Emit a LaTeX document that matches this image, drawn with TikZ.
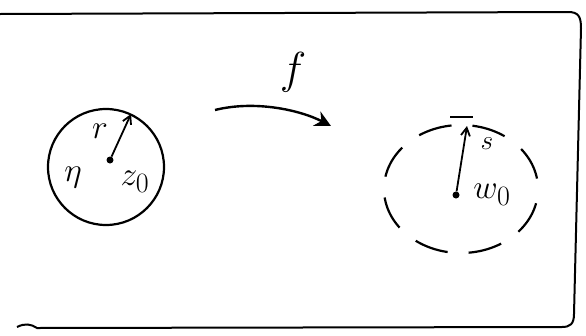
\documentclass[tikz,border=0pt]{standalone}
\usepackage{amsmath, amssymb}
\usetikzlibrary{arrows.meta, shapes.geometric}

\begin{document}
\begin{tikzpicture}[x=1pt, y=-1pt,
  frame/.style={line width=2pt},
  disk/.style={circle, draw, line width=2.2pt, minimum size=116pt, inner sep=0pt},
  image/.style={ellipse, draw, line width=2.2pt, minimum width=154pt,
                minimum height=128pt, inner sep=0pt,
                dash pattern=on 34pt off 21pt, dash phase=44.5pt},
  centre/.style={circle, fill, minimum size=7pt, inner sep=0pt},
  radius/.style={line width=1.8pt, -{Straight Barb[length=8pt, width=9pt]}},
  map/.style={line width=2.4pt, -{Stealth[length=16pt, width=16pt]}},
  lbl/.style={font=\Huge, scale=1.35},
  small/.style={font=\Huge, scale=1.1},
]
\useasboundingbox (0,0) rectangle (586,335);

% outer frame
\draw[frame] (0,14) -- (568,12) .. controls (578,12) and (581,16) .. (581,28)
  -- (574,314) .. controls (574,324) and (570,327) .. (562,327) -- (37,328)
  .. controls (31,324) and (25,323) .. (17,327);

% domain disc
\node[disk] (D) at (106,167) {};
\node[centre] (z0) at (110,160) {};
\coordinate (rtip) at (131,114);
\draw[radius] (z0) -- (rtip);
\node[lbl] (r) at (100,131) {$r$};
\node[lbl] (z0lbl) at (135,182) {$z_0$};
\node[lbl] (eta) at (73,178) {$\eta$};

% the map
\coordinate (fstart) at (215,110);
\coordinate (fend) at (331,126);
\draw[map] (fstart) .. controls (255,100) and (300,110) .. (fend);
\node[font=\Huge, scale=1.8] (f) at (293,72) {$f$};

% image disc
\node[image] (W) at (461,189) {};
\node[centre] (w0) at (456,195) {};
\coordinate (stip) at (467,126);
\draw[radius] (w0) -- (stip);
\coordinate (barL) at (450,117);
\coordinate (barR) at (473,117);
\draw[line width=2.2pt] (barL) -- (barR);
\node[small] (s) at (487,144) {$s$};
\node[lbl] (w0lbl) at (492,195) {$w_0$};

\end{tikzpicture}
\end{document}
